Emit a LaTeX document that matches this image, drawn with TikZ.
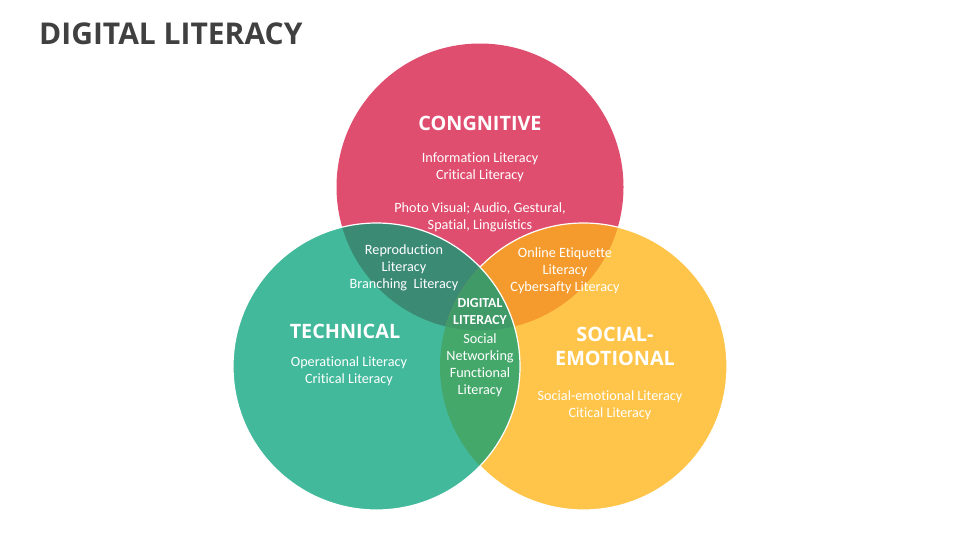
\documentclass[tikz,border=0pt]{standalone}
\usepackage{fontspec}
\setmainfont{Carlito}[Ligatures=NoCommon]
\newfontfamily\headfont{Open Sans}
\usepackage{tikz}
\usetikzlibrary{positioning}

\definecolor{cogpink}{HTML}{E04E6F}
\definecolor{techteal}{HTML}{42B99B}
\definecolor{socyellow}{HTML}{FEC54A}
\definecolor{cogtech}{HTML}{3A8A74}
\definecolor{cogsoc}{HTML}{F59B2D}
\definecolor{techsoc}{HTML}{45A86B}
\definecolor{allthree}{HTML}{3F9A68}
\definecolor{titlegray}{HTML}{404040}

\tikzset{
  pagetitle/.style={text=titlegray, font=\headfont\bfseries\fontsize{30}{36}\selectfont, inner sep=0pt},
  head/.style={text=white, align=center, font=\headfont\bfseries\fontsize{19.8}{24}\selectfont, inner sep=0pt},
  core/.style={text=white, align=center, font=\bfseries\fontsize{13.8}{17}\selectfont, inner sep=0pt},
  body/.style={text=white, align=center, font=\fontsize{14.2}{17}\selectfont, inner sep=0pt}
}

\begin{document}
\begin{tikzpicture}[x=1pt,y=-1pt]
\useasboundingbox (0,0) rectangle (960,540);
\def\rad{143.5}

% Circle centres
\coordinate (top) at (480,187);
\coordinate (left) at (376.5,366.5);
\coordinate (right) at (583.5,366.5);

% Circles
\fill[cogpink] (top) circle (\rad);
\fill[socyellow] (right) circle (\rad);
\fill[techteal] (left) circle (\rad);

% Overlaps
\begin{scope}
  \clip (top) circle (\rad);
  \fill[cogtech] (left) circle (\rad);
  \fill[cogsoc] (right) circle (\rad);
\end{scope}
\begin{scope}
  \clip (left) circle (\rad);
  \fill[techsoc] (right) circle (\rad);
  \clip (right) circle (\rad);
  \fill[allthree] (top) circle (\rad);
\end{scope}

% White rims
\begin{scope}[even odd rule]
  \clip (0,0) rectangle (960,540) (left) circle (\rad);
  \draw[white, line width=1.2pt] (right) circle (\rad);
\end{scope}
\draw[white, line width=1.2pt] (left) circle (\rad);

% Title
\node[pagetitle, anchor=west] (title) at (39,34) {DIGITAL LITERACY};

% Cognitive
\node[head] (cog) at (480,123) {CONGNITIVE};
\node[body] (coglist) at (480,167.5) {Information Literacy\\Critical Literacy};
\node[body] (cogmedia) at (480,217.5) {Photo Visual; Audio, Gestural,\\Spatial, Linguistics};

% Technical
\node[head] (tech) at (345,331) {TECHNICAL};
\node[body] (techlist) at (349,371) {Operational Literacy\\Critical Literacy};
\node[body] (repro) at (404,267.5) {Reproduction\\Literacy\\Branching\ \ Literacy};

% Social-emotional
\node[head] (soc) at (615,346) {SOCIAL-\\EMOTIONAL};
\node[body] (soclist) at (610,405) {Social-emotional Literacy\\Citical Literacy};
\node[body] (online) at (565,270.5) {Online Etiquette\\Literacy\\Cybersafty Literacy};

% Centre
\node[core] (dl) at (480,312) {DIGITAL\\LITERACY};
\node[body] (dlist) at (480,365.5) {Social\\Networking\\Functional\\Literacy};
\end{tikzpicture}
\end{document}
